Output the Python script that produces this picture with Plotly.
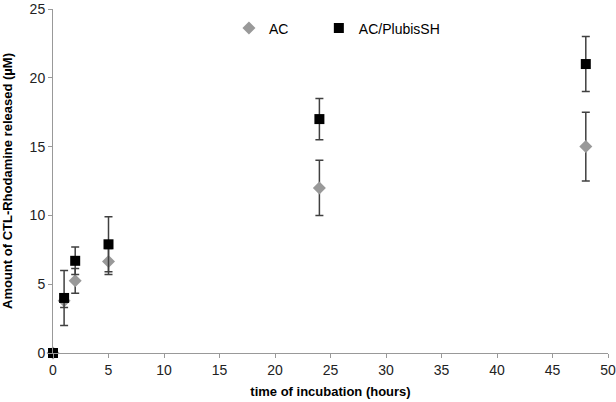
import plotly.graph_objects as go

# incubation time (hours)
time_h = [0, 1, 2, 5, 24, 48]

# AC
ac_vals = [0, 3.8, 5.25, 6.65, 12.0, 15.0]
ac_err = [0, 0.5, 0.9, 0.95, 2.0, 2.5]

# AC/PlubisSH
plub_vals = [0, 4.0, 6.7, 7.9, 17.0, 21.0]
plub_err = [0, 2.0, 1.0, 2.0, 1.5, 2.0]

FONT = "Liberation Sans, Arial"

fig = go.Figure()

fig.add_trace(go.Scatter(
    x=time_h, y=ac_vals, mode="markers", name="AC", legend="legend",
    marker=dict(symbol="diamond", size=10, color="#999999"),
    error_y=dict(type="data", array=ac_err, color="#404040", thickness=1.5, width=4),
    cliponaxis=False,
))
fig.add_trace(go.Scatter(
    x=time_h, y=plub_vals, mode="markers", name="AC/PlubisSH", legend="legend2",
    marker=dict(symbol="square", size=10, color="#000000"),
    error_y=dict(type="data", array=plub_err, color="#404040", thickness=1.5, width=4),
    cliponaxis=False,
))

axis_common = dict(
    showgrid=False, zeroline=False, showline=True, linecolor="#999999", linewidth=1,
    ticks="outside", tickcolor="#999999", ticklen=4, automargin=False,
    ticklabeloverflow="allow",
    tickfont=dict(family=FONT, size=14, color="#222222"),
)

fig.update_xaxes(range=[0, 50], dtick=5, **axis_common,
                 title=dict(text="<b>time of incubation (hours)</b>" + "\u00a0" * 6,
                            font=dict(family=FONT, size=13, color="#000000"),
                            standoff=10))
fig.update_yaxes(range=[0, 25], dtick=5, **axis_common,
                 title=dict(text="<b>Amount of CTL-Rhodamine released (µM)</b>",
                            font=dict(family=FONT, size=13, color="#000000"),
                            standoff=14))

leg_common = dict(orientation="h", y=0.99, xanchor="left", yanchor="top",
                  itemwidth=30,
                  font=dict(family=FONT, size=14, color="#000000"),
                  bgcolor="rgba(0,0,0,0)")

fig.update_layout(
    width=616, height=402,
    margin=dict(l=53, r=8, t=9, b=49),
    plot_bgcolor="white", paper_bgcolor="white",
    showlegend=True,
    legend=dict(x=0.317, **leg_common),
    legend2=dict(x=0.479, **leg_common),
)

fig.write_html("out.html", config={"displayModeBar": False},
               post_script="document.body.style.margin='0';")
